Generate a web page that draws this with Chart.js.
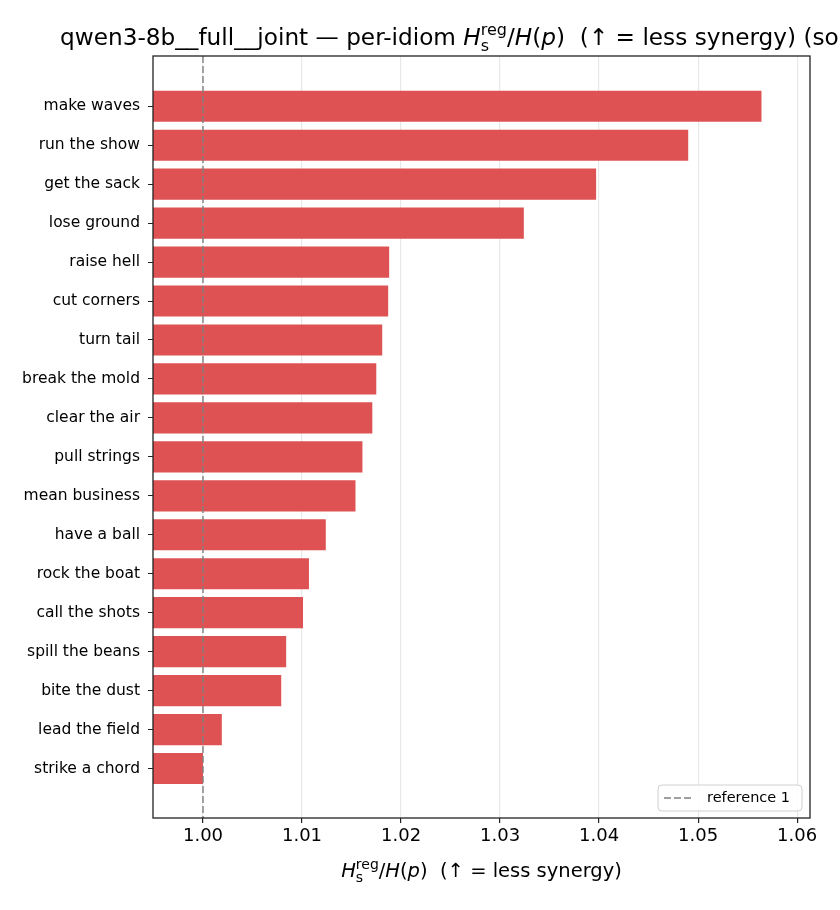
<!DOCTYPE html>
<html>
<head>
<meta charset="utf-8">
<script src="https://cdn.jsdelivr.net/npm/chart.js@4.4.1/dist/chart.umd.min.js"></script>
<style>
html,body{margin:0;padding:0;background:#fff;}
#wrap{width:840px;height:910px;position:relative;}
</style>
</head>
<body>
<div id="wrap"><canvas id="c" width="840" height="910"></canvas></div>
<script>
const idioms = ["make waves","run the show","get the sack","lose ground","raise hell","cut corners","turn tail","break the mold","clear the air","pull strings","mean business","have a ball","rock the boat","call the shots","spill the beans","bite the dust","lead the field","strike a chord"];
const ratios = [1.0564,1.0490,1.0397,1.0324,1.0188,1.0187,1.0181,1.0175,1.0171,1.0161,1.0154,1.0124,1.0107,1.0101,1.0084,1.0079,1.0019,1.0000];
const xTickValues = [1.00,1.01,1.02,1.03,1.04,1.05,1.06];
const referenceValue = 1.0;
const referenceLabel = "reference 1";

const FONT = "'DejaVu Sans', sans-serif";

function drawRich(ctx, x, y, segs, align) {
  let total = 0;
  const ms = segs.map(s => {
    ctx.font = (s.italic ? "italic " : "") + s.size + "px " + FONT;
    const w = ctx.measureText(s.t).width;
    const r = {w: w, x: total};
    total += w + (s.gap || 0);
    return r;
  });
  let x0 = x;
  if (align === "center") x0 = x - total / 2;
  segs.forEach((s, i) => {
    ctx.font = (s.italic ? "italic " : "") + s.size + "px " + FONT;
    ctx.textAlign = "left";
    ctx.textBaseline = "alphabetic";
    ctx.fillStyle = "#000";
    ctx.fillText(s.t, x0 + ms[i].x + (s.dx || 0), y + (s.dy || 0));
  });
}

function mathSegs(size) {
  const sm = Math.round(size * 0.7);
  return [
    {t: "H", size: size, italic: true},
    {t: "s", size: sm, dy: size * 0.28, gap: -sm * 0.52},
    {t: "reg", size: sm, dy: -size * 0.42},
    {t: "/", size: size},
    {t: "H", size: size, italic: true},
    {t: "(", size: size},
    {t: "p", size: size, italic: true},
    {t: ")", size: size}
  ];
}

const overlay = {
  id: "overlay",
  afterDatasetsDraw(chart) {
    const ctx = chart.ctx, a = chart.chartArea, xs = chart.scales.x;
    const px = xs.getPixelForValue(referenceValue);
    ctx.save();
    ctx.strokeStyle = "#808080";
    ctx.lineWidth = 1.4;
    ctx.setLineDash([7, 3]);
    ctx.beginPath();
    ctx.moveTo(px, a.top);
    ctx.lineTo(px, a.bottom);
    ctx.stroke();
    ctx.restore();
  },
  afterDraw(chart) {
    const ctx = chart.ctx, a = chart.chartArea;
    ctx.save();
    // frame
    ctx.strokeStyle = "#222";
    ctx.lineWidth = 1.3;
    ctx.setLineDash([]);
    ctx.strokeRect(a.left, a.top, a.right - a.left, a.bottom - a.top);
    // legend
    const lx = 658, ly = 785, lw = 144, lh = 26, r = 4;
    ctx.fillStyle = "rgba(255,255,255,0.85)";
    ctx.strokeStyle = "#d0d0d0";
    ctx.lineWidth = 1;
    ctx.beginPath();
    ctx.roundRect(lx, ly, lw, lh, r);
    ctx.fill();
    ctx.stroke();
    ctx.strokeStyle = "#808080";
    ctx.lineWidth = 1.4;
    ctx.setLineDash([7, 3]);
    ctx.beginPath();
    ctx.moveTo(664, ly + 13);
    ctx.lineTo(693, ly + 13);
    ctx.stroke();
    ctx.setLineDash([]);
    ctx.fillStyle = "#000";
    ctx.font = "14.5px " + FONT;
    ctx.textAlign = "left";
    ctx.textBaseline = "middle";
    ctx.fillText(referenceLabel, 707, ly + 13.5);
    // title
    const T = 23.2;
    const segs = [{t: "qwen3-8b__full__joint \u2014 per-idiom ", size: T}]
      .concat(mathSegs(T))
      .concat([{t: "  (\u2191 = less synergy) (sorted)", size: T}]);
    drawRich(ctx, 60, 45, segs, "left");
    // x label
    const L = 19.5;
    const xsegs = mathSegs(L).concat([{t: "  (\u2191 = less synergy)", size: L}]);
    drawRich(ctx, (a.left + a.right) / 2, 877, xsegs, "center");
    ctx.restore();
  }
};

new Chart(document.getElementById("c"), {
  type: "bar",
  data: {
    datasets: [{
      data: ratios.map((v, i) => ({x: v, y: i})),
      backgroundColor: "#de5253",
      borderWidth: 0,
      barPercentage: 0.8,
      categoryPercentage: 1.0
    }]
  },
  options: {
    indexAxis: "y",
    responsive: false,
    animation: false,
    devicePixelRatio: 1,
    layout: {padding: {left: 0, right: 30, top: 56, bottom: 0}},
    plugins: {legend: {display: false}, tooltip: {enabled: false}, title: {display: false}},
    scales: {
      x: {
        type: "linear",
        min: 0.99495,
        max: 1.0613,
        afterBuildTicks(s) { s.ticks = xTickValues.map(v => ({value: v})); },
        afterFit(s) { s.height = 92; },
        ticks: {
          color: "#000",
          font: {family: FONT, size: 18},
          padding: 3,
          maxRotation: 0,
          autoSkip: false,
          callback: v => Number(v).toFixed(2)
        },
        grid: {color: "#e8e8e8", lineWidth: 1.2, tickColor: "#222", tickLength: 5, drawOnChartArea: true},
        border: {display: false}
      },
      y: {
        type: "linear",
        reverse: true,
        offset: false,
        min: -1.29,
        max: 18.27,
        afterBuildTicks(s) { s.ticks = idioms.map((_, i) => ({value: i})); },
        afterFit(s) { s.width = 153; },
        ticks: {
          color: "#000",
          font: {family: FONT, size: 15.5},
          padding: 8,
          autoSkip: false,
          callback: v => idioms[v] !== undefined ? idioms[v] : ""
        },
        grid: {drawOnChartArea: false, offset: false, tickColor: "#222", tickLength: 5},
        border: {display: false}
      }
    }
  },
  plugins: [overlay]
});
</script>
</body>
</html>
